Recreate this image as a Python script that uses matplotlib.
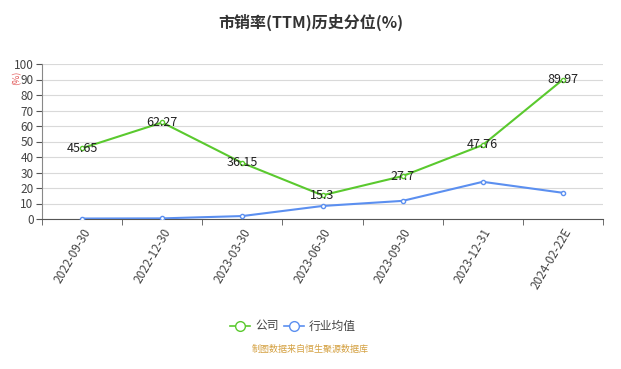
import numpy as np
import matplotlib.pyplot as plt

plt.rcParams['font.family'] = ['Noto Sans CJK SC', 'DejaVu Sans']

dates = ["2022-09-30", "2022-12-30", "2023-03-30", "2023-06-30",
         "2023-09-30", "2023-12-31", "2024-02-22E"]
company = [45.65, 62.27, 36.15, 15.3, 27.7, 47.76, 89.97]
industry = [0.3, 0.4, 1.9, 8.4, 11.7, 24.0, 16.9]

green = '#5ac92e'
blue = '#5b8ff0'

fig = plt.figure(figsize=(6.21, 3.69), dpi=100)
ax = fig.add_axes([42 / 621, 150 / 369, 561 / 621, 155 / 369])

x = np.arange(len(dates))
ax.plot(x, company, color=green, lw=1.5, marker='o', ms=3, mfc='white', mec=green, zorder=3)
ax.plot(x, industry, color=blue, lw=1.5, marker='o', ms=3, mfc='white', mec=blue, zorder=3)
for xi, v in zip(x, company):
    ax.text(xi, v, f"{v:g}", ha='center', va='center', fontsize=9, color='#222222', zorder=4)

ax.set_xlim(-0.5, len(dates) - 0.5)
ax.set_ylim(0, 100)
ax.set_yticks(np.arange(0, 101, 10))
ax.set_xticks(x)
ax.set_xticklabels(dates, rotation=60, ha='right', rotation_mode='anchor', fontsize=8.5, color='#444444')
ax.set_xticks(np.arange(-0.5, len(dates)), minor=True)
ax.tick_params(axis='x', which='major', length=0, pad=5)
ax.tick_params(axis='x', which='minor', length=4, color='#555555')
ax.tick_params(axis='y', length=4, color='#555555', labelsize=8.5, labelcolor='#444444', pad=2)
ax.grid(axis='y', color='#d9d9d9', lw=0.8)
ax.set_axisbelow(True)
for s in ['top', 'right']:
    ax.spines[s].set_visible(False)
ax.spines['left'].set_color('#888888')
ax.spines['bottom'].set_color('#555555')

fig.text(17 / 621, 1 - 78 / 369, "(%)", rotation=90, color='#e05050', fontsize=6.5, ha='center', va='center')
fig.text(0.5, 1 - 22 / 369, "市销率(TTM)历史分位(%)", ha='center', va='center', fontsize=11.5, fontweight='bold', color='#333333')

# legend
ly = 1 - 326 / 369
fig.lines.append(plt.Line2D([230 / 621, 250 / 621], [ly, ly], color=green, lw=1.2, transform=fig.transFigure))
fig.lines.append(plt.Line2D([240 / 621], [ly], marker='o', ms=7, mfc='white', mec=green, transform=fig.transFigure))
fig.text(255 / 621, ly, "公司", va='center', fontsize=8.5, color='#444444')
fig.lines.append(plt.Line2D([284 / 621, 304 / 621], [ly, ly], color=blue, lw=1.2, transform=fig.transFigure))
fig.lines.append(plt.Line2D([294 / 621], [ly], marker='o', ms=7, mfc='white', mec=blue, transform=fig.transFigure))
fig.text(309 / 621, ly, "行业均值", va='center', fontsize=8.5, color='#444444')

fig.text(0.5, 1 - 349 / 369, "制图数据来自恒生聚源数据库", ha='center', va='center', fontsize=6.5, color='#d4a040')

fig.savefig("out.png", dpi=100)
